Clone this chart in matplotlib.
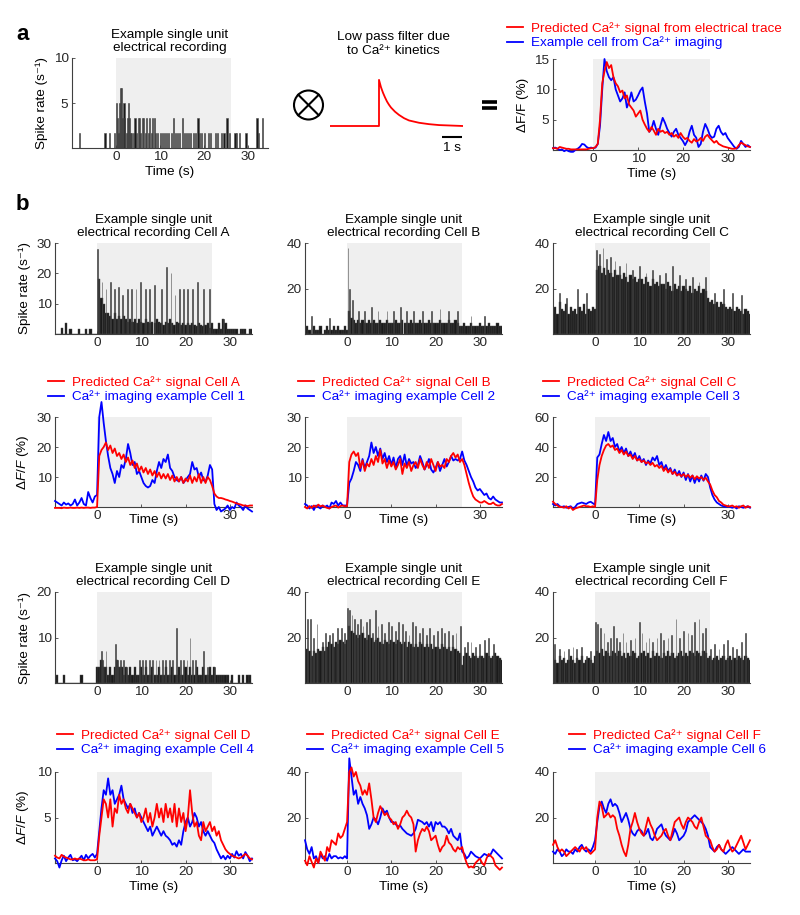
#!/usr/bin/env python3
"""
Spike-rate histograms, Ca2+ kernel and predicted vs. imaged Ca2+ traces.
"""

import matplotlib

matplotlib.use("Agg")
import matplotlib.pyplot as plt
import numpy as np
from matplotlib.patches import Circle

FIG_W, FIG_H = 800, 915
FS = 9.7
RED = "#ff0000"
BLUE = "#0000ff"
SHADE = "#efefef"
BAR = "#1a1a1a"
BAR_EDGE = "#4a4a4a"
AX_COLOR = "#404040"
STIM_ON, STIM_OFF = 0, 26

# ---------------------------------------------------------------- data
# all traces / histograms are sampled on a 0.5 s grid from -9.5 to 35 s
t_grid = np.arange(-9.5, 35.01, 0.5)

# panel a: sparse single unit (spike times, rate)
a_spike_t = [-8.2, -2.5, -1.5, -0.3, 0.2, 0.4, 0.6, 0.8, 1.0, 1.3, 1.5, 1.8, 2.0, 2.3,
             2.6, 2.8, 3.0, 3.3, 3.6, 4.0, 4.3, 4.6, 5.0, 5.3, 5.6, 6.0, 6.3, 6.6, 7.0,
             7.3, 7.6, 8.0, 8.3, 8.7, 9.0, 9.5, 10.0, 10.5, 11.0, 11.5, 12.0, 12.5,
             13.0, 13.5, 14.0, 14.5, 15.0, 15.5, 16.0, 16.5, 17.0, 17.5, 18.0, 18.6,
             19.0, 19.5, 20.0, 21.0, 21.5, 22.5, 23.0, 24.0, 24.5, 25.2, 25.7, 27.0,
             27.3, 28.0, 29.5, 32.0, 32.3, 33.3]
a_spike_v = [1.67, 1.67, 1.67, 1.67, 5.0, 3.33, 1.67, 5.0, 6.67, 6.67, 3.33, 5.0, 3.33,
             1.67, 3.33, 5.0, 3.33, 1.67, 1.67, 1.67, 3.33, 1.67, 3.33, 3.33, 1.67, 3.33,
             3.33, 1.67, 3.33, 1.67, 3.33, 1.67, 3.33, 3.33, 1.67, 1.67, 1.67, 1.67, 1.67,
             1.67, 1.67, 1.67, 3.33, 1.67, 1.67, 1.67, 3.33, 1.67, 1.67, 1.67, 1.67, 1.67,
             1.67, 3.33, 1.67, 1.67, 1.67, 1.67, 1.67, 1.67, 1.67, 1.67, 1.67, 3.33, 1.67,
             1.67, 1.67, 1.67, 1.67, 3.33, 1.67, 3.33]

# Ca2+ kernel (time after spike in s, normalised amplitude)
kernel_t = [0.0, 0.1, 0.2, 0.3, 0.4, 0.5, 0.6, 0.8, 1.0, 1.25, 1.5, 2.0, 2.5, 3.0, 4.2]
kernel_v = [1.0, 0.84, 0.72, 0.62, 0.53, 0.46, 0.40, 0.31, 0.24, 0.17, 0.12, 0.07, 0.04,
            0.02, 0.0]

a_pred = [0.3, 0.3, 0.3, 0.2, 0.5, 0.4, 0.3, 0.2, 0.2, 0.1,
          0.1, 0.1, 0.1, 0.1, 0.1, 0.1, 0.1, 0.2, 0.3, 0.3,
          0.5, 1.0, 5.0, 11.0, 13.0, 14.5, 13.5, 14.0, 12.0, 11.0,
          10.5, 9.5, 9.8, 8.5, 9.0, 7.5, 7.0, 6.5, 5.5, 6.0,
          6.5, 5.0, 4.2, 3.5, 3.0, 3.8, 3.2, 2.5, 3.5, 3.0,
          3.2, 2.8, 3.0, 2.5, 2.8, 2.2, 2.5, 2.0, 2.8, 2.2,
          1.8, 2.0, 1.5, 1.2, 1.8, 1.4, 1.6, 2.0, 1.5, 2.2,
          2.5, 2.0, 1.6, 1.2, 1.5, 1.0, 0.8, 0.6, 0.5, 0.4,
          0.3, 0.2, 0.2, 0.3, 0.8, 1.2, 1.0, 0.8, 0.6, 0.5]
a_img = [0.3, 0.3, 0.4, 0.2, 0.0, 0.1, -0.2, 0.0, -0.2, -0.3,
         -0.3, 0.0, 0.2, 0.5, 1.0, 0.9, 0.5, 0.3, 0.4, 0.3,
         0.4, 1.0, 4.0, 10.0, 15.0, 13.0, 12.0, 11.5, 12.0, 10.0,
         9.0, 8.0, 8.5, 9.5, 7.0, 8.0, 9.5, 8.0, 8.3, 9.0,
         9.8, 10.3, 8.0, 6.0, 3.0, 3.5, 4.8, 3.5, 2.5, 4.0,
         5.3, 4.5, 3.5, 2.8, 2.2, 3.0, 3.5, 2.5, 2.0, 1.5,
         0.8, 1.5, 3.0, 4.0, 2.5, 2.0, 0.5, 1.0, 3.0, 4.3,
         3.5, 2.5, 2.0, 2.2, 3.5, 4.0, 3.0, 2.5, 2.8, 2.0,
         1.5, 1.0, 0.5, 0.2, 0.5, 1.5, 1.0, 0.5, 0.8, 0.5]

# panel b: spike histograms (0.5 s bins) plus narrow high-rate bins
spike_A = [0, 0, 0, 2.0, 0, 3.5, 0, 1.7, 0, 0,
           0, 1.7, 0, 0, 1.7, 0, 1.7, 0, 0, 0,
           18, 12, 10, 7, 7, 6, 5, 7, 5, 6,
           5, 6, 5, 4, 5, 4, 5, 3.5, 5, 4,
           3.5, 5, 4, 3.5, 4, 3.5, 5, 4, 3.5, 3,
           4, 3.5, 5, 3.5, 3, 4, 3.5, 3, 3.5, 3,
           3.5, 3, 3.5, 3, 2.5, 3.5, 3, 2.5, 3, 3.5,
           2, 3.5, 1.7, 1.7, 3.5, 1.7, 5, 3.5, 1.7, 1.7,
           1.7, 1.7, 1.7, 0, 1.7, 1.7, 1.7, 0, 1.7, 1.7]
peaks_A_t = [0.1, 0.3, 1.1, 2.0, 3.0, 4.0, 4.8, 5.8, 6.9, 7.8, 8.8, 9.9, 11.0, 11.8,
             13.0, 14.5, 15.6, 16.7, 17.6, 18.6, 19.5, 20.4, 21.5, 22.7, 24.0, 25.4, 28.5]
peaks_A_v = [28, 18, 17, 15, 17, 15, 15.5, 13, 15, 15, 15, 17, 15, 15,
             16, 15, 22, 20, 13, 15, 15, 15, 15, 17, 15, 15, 5]

spike_B = [1.7, 3.3, 1.7, 0, 3.3, 1.7, 1.7, 3.3, 0, 1.7,
           3.3, 1.7, 1.7, 3.3, 1.7, 3.3, 1.7, 1.7, 3.3, 1.7,
           10, 7, 6, 5, 6, 5, 6, 5, 5, 6,
           5, 6, 5, 5, 6, 5, 5, 6, 5, 5,
           5, 6, 5, 5, 6, 5, 5, 5, 6, 5,
           5, 5, 6, 5, 5, 5, 6, 5, 5, 5,
           5, 6, 5, 5, 5, 6, 5, 5, 6, 5,
           3.3, 3.3, 5, 3.3, 3.3, 5, 3.3, 3.3, 3.3, 5,
           3.3, 3.3, 3.3, 5, 3.3, 3.3, 3.3, 5, 3.3, 3.3]
peaks_B_t = [-8.0, -4.0, 0.2, 0.6, 1.2, 2.5, 4.0, 5.5, 7.0, 9.0, 10.5, 12.0, 13.5,
             15.0, 17.0, 19.0, 21.0, 23.0, 25.0, 28.0, 31.0]
peaks_B_v = [8, 7, 38, 20, 15, 10, 10, 12, 10, 10, 10, 12, 10, 10, 10, 10, 11, 10, 10, 8, 8]

spike_C = [10, 12, 9, 14, 11, 10, 13, 9, 12, 10,
           11, 9, 12, 10, 13, 9, 11, 10, 12, 11,
           28, 30, 27, 29, 26, 28, 27, 25, 28, 26,
           26, 24, 27, 25, 23, 26, 24, 25, 23, 24,
           24, 22, 25, 23, 21, 24, 22, 23, 21, 22,
           22, 20, 23, 21, 19, 22, 20, 21, 19, 21,
           20, 19, 21, 18, 20, 19, 21, 18, 20, 19,
           16, 14, 15, 13, 14, 12, 14, 13, 12, 11,
           12, 11, 10, 12, 11, 10, 9, 11, 10, 9]
peaks_C_t = [-8, -6.5, -4, -2, 0.3, 1, 1.8, 2.5, 3.5, 4.5, 5.5, 7, 8.5, 10, 11.5, 13,
             14.5, 16, 17.5, 19, 20.5, 22, 23.5, 25, 27, 29, 31, 33]
peaks_C_v = [18, 16, 20, 18, 37, 35, 38, 33, 34, 32, 30, 31, 28, 30, 27, 28,
             26, 27, 30, 26, 24, 25, 23, 25, 18, 20, 18, 17]

spike_D = [0, 1.7, 0, 0, 1.7, 0, 0, 0, 0, 0,
           0, 0, 1.7, 0, 0, 0, 0, 0, 0, 3.5,
           3.5, 5, 3.5, 3.5, 1.7, 3.5, 1.7, 3.5, 5, 3.5,
           3.5, 1.7, 3.5, 1.7, 3.5, 1.7, 3.5, 1.7, 1.7, 3.5,
           1.7, 3.5, 1.7, 1.7, 3.5, 1.7, 1.7, 3.5, 1.7, 1.7,
           3.5, 1.7, 1.7, 3.5, 1.7, 1.7, 3.5, 1.7, 1.7, 3.5,
           1.7, 3.5, 1.7, 1.7, 3.5, 1.7, 1.7, 3.5, 1.7, 1.7,
           3.5, 1.7, 3.5, 1.7, 1.7, 1.7, 1.7, 1.7, 1.7, 0,
           1.7, 0, 0, 1.7, 0, 1.7, 0, 1.7, 1.7, 0]
peaks_D_t = [1.0, 1.3, 2.0, 4.2, 4.7, 5.3, 6.0, 6.7, 9.5, 10.3, 11.0, 11.8, 12.5, 13.3,
             14.0, 14.8, 15.5, 16.3, 17.0, 18.0, 18.8, 19.6, 20.3, 21.0, 21.5, 22.3,
             24.0, 25.0, 26.5]
peaks_D_v = [7, 5, 7, 8.5, 5, 5, 5, 3.5, 5, 5, 5, 5, 5, 5,
             5, 5, 5, 5, 5, 12, 5, 5, 5, 10, 5, 5, 7, 3.5, 3.5]

spike_E = [14, 15, 14, 12, 14, 13, 15, 14, 16, 14,
           16, 18, 17, 16, 18, 17, 19, 18, 17, 19,
           25, 23, 22, 21, 20, 21, 22, 20, 19, 21,
           20, 18, 19, 20, 18, 17, 19, 18, 17, 19,
           18, 17, 19, 18, 17, 18, 16, 18, 17, 16,
           17, 16, 18, 17, 16, 17, 16, 17, 15, 16,
           16, 15, 17, 16, 15, 16, 14, 16, 15, 14,
           13, 8, 12, 13, 12, 11, 13, 12, 11, 12,
           12, 11, 13, 12, 11, 12, 13, 12, 11, 10]
peaks_E_t = [-9, -8.2, -7.5, -6.8, -5.5, -4.8, -4, -3.2, -2.2, -1.2,
             -0.5, 0.1, 0.6, 1.1, 1.7, 2.3, 3, 3.6, 4.4, 5,
             5.8, 6.4, 7, 7.8, 8.5, 9.3, 10.1, 11, 11.7, 12.5,
             13.2, 14, 14.8, 15.5, 16.3, 17, 18, 18.7, 19.5, 20.4,
             21.3, 22, 23, 23.8, 24.6, 25.6, 26.5, 27.2, 28, 29,
             30, 31, 32, 33]
peaks_E_v = [28, 28, 20, 26, 18, 22, 21, 22, 24, 24,
             22, 33, 32, 30, 28, 26, 28, 25, 27, 28,
             22, 32, 25, 26, 22, 27, 25, 23, 27, 26,
             23, 21, 27, 25, 22, 24, 21, 24, 21, 23,
             24, 22, 23, 21, 22, 25, 16, 18, 18, 16,
             17, 19, 20, 17]

spike_F = [11, 10, 9, 12, 10, 11, 9, 10, 12, 10,
           9, 11, 10, 12, 9, 10, 11, 10, 9, 12,
           14, 13, 15, 12, 14, 13, 12, 14, 13, 12,
           14, 12, 13, 11, 13, 12, 14, 13, 11, 12,
           13, 14, 12, 13, 11, 14, 12, 13, 12, 11,
           13, 12, 14, 12, 13, 11, 12, 13, 14, 12,
           13, 12, 14, 13, 12, 14, 13, 12, 14, 13,
           11, 12, 10, 11, 12, 10, 11, 12, 10, 11,
           12, 10, 11, 10, 12, 11, 10, 12, 11, 10]
peaks_F_t = [-9.2, -8, -7, -6, -5, -4.2, -3, -2, -1, 0.1,
             0.6, 1.2, 2, 2.8, 3.5, 4.2, 4.8, 5.5, 6.3, 7,
             8, 9, 10, 10.6, 11.5, 12.2, 13, 14, 14.8, 15.5,
             16.5, 17.2, 18.3, 19, 20, 21, 21.8, 22.5, 23.5, 24.2,
             25, 26, 27, 28, 29, 30, 31, 32, 33, 34]
peaks_F_v = [17, 15, 14, 15, 16, 15, 16, 12, 14, 27,
             26, 24, 22, 18, 20, 25, 20, 18, 22, 18,
             19, 20, 27, 22, 18, 20, 18, 20, 22, 19,
             20, 21, 28, 20, 23, 22, 21, 27, 28, 22,
             24, 15, 17, 15, 17, 19, 16, 15, 18, 22]

# panel b: predicted (red) and imaged (blue) dF/F traces, %
pred_A = [-0.3, -0.3, -0.3, -0.4, -0.2, -0.3, -0.3, -0.2, -0.3, -0.3,
          -0.2, -0.3, -0.2, -0.3, -0.2, -0.2, -0.3, -0.2, -0.2, 0.0,
          17.0, 19.0, 20.0, 21.5, 19.0, 20.5, 18.0, 19.5, 17.0, 18.0,
          16.0, 17.5, 15.0, 16.5, 14.0, 15.5, 13.0, 14.5, 12.0, 13.5,
          11.5, 13.0, 11.0, 12.5, 10.5, 12.0, 10.0, 11.5, 9.5, 11.0,
          9.5, 11.0, 9.0, 10.5, 8.5, 10.0, 8.5, 10.0, 8.0, 9.5,
          8.5, 10.5, 8.0, 10.0, 8.5, 11.0, 8.0, 10.0, 8.0, 10.0,
          9.0, 7.0, 4.5, 3.5, 3.0, 3.0, 2.8, 2.5, 2.3, 2.0,
          1.8, 1.5, 1.2, 1.0, 0.8, 0.5, 0.5, 0.3, 0.5, 0.5]
img_1 = [2.0, 1.5, 1.0, 0.5, 1.5, 0.8, 1.2, 0.5, 1.0, 2.5,
         0.5, 1.5, 3.0, 1.0, 0.5, 5.0, 3.0, 1.5, 3.5, 4.0,
         30.0, 35.0, 28.0, 22.0, 17.0, 13.0, 11.0, 8.0, 12.0, 10.0,
         14.0, 13.0, 16.0, 21.0, 18.0, 14.0, 15.0, 11.0, 12.0, 10.0,
         8.0, 7.0, 6.5, 7.0, 9.0, 8.0, 12.0, 15.0, 13.0, 16.0,
         15.0, 17.5, 13.0, 12.0, 10.0, 9.0, 8.5, 10.0, 8.0, 9.0,
         10.0, 11.0, 15.0, 12.5, 13.0, 10.0, 11.5, 9.0, 8.5, 10.5,
         14.0, 12.5, 1.0, -1.0, 0.0, -1.5, -1.0, -0.5, 0.5, -1.0,
         0.0, -0.5, 1.5, 0.5, 0.0, -1.0, 0.5, -0.5, -1.0, -1.5]

pred_B = [0.0, -0.5, 0.3, -0.3, 0.5, 0.0, 0.8, 0.2, 0.5, 0.0,
          -0.3, -0.5, 0.0, 0.3, 0.5, -0.2, 0.3, 0.5, 0.2, 0.3,
          15.0, 17.5, 18.5, 17.0, 18.0, 13.0, 15.5, 12.0, 14.5, 13.5,
          16.0, 14.0, 17.0, 15.0, 19.0, 14.5, 16.0, 13.0, 15.5, 13.5,
          15.0, 12.5, 14.0, 16.0, 11.0, 14.5, 13.0, 15.0, 12.0, 14.0,
          15.0, 13.0, 16.0, 14.0, 12.5, 15.0, 13.0, 16.0, 14.0, 12.0,
          15.0, 13.5, 14.0, 13.0, 16.0, 15.0, 17.0, 18.0, 16.5, 17.5,
          15.0, 16.0, 14.0, 11.0, 8.0, 5.5, 3.5, 2.5, 2.0, 1.5,
          1.5, 2.0, 1.5, 1.0, 1.0, 1.5, 0.8, 0.5, 0.5, 1.0]
img_2 = [1.0, 0.5, -0.5, 0.3, -1.0, 0.5, 0.0, -0.5, 0.5, 0.0,
         0.5, -0.5, 1.5, 1.0, 2.0, 0.5, 1.5, 0.5, 0.5, 0.5,
         8.0, 9.5, 12.0, 15.0, 14.0, 12.0, 16.0, 13.0, 15.0, 17.0,
         21.5, 18.0, 20.0, 17.0, 19.5, 16.0, 18.0, 15.0, 17.0, 14.0,
         16.5, 13.0, 16.0, 17.0, 14.0, 17.5, 13.5, 16.0, 14.5, 15.0,
         13.0, 14.0, 17.0, 15.0, 12.5, 14.0, 16.0, 12.5, 11.5, 13.0,
         15.0, 12.0, 14.0, 16.0, 13.5, 15.0, 17.0, 15.5, 16.0, 15.5,
         16.0, 18.5, 15.5, 14.0, 12.0, 10.0, 8.5, 6.5, 5.5, 6.0,
         5.0, 4.0, 4.5, 3.0, 2.5, 3.5, 2.5, 2.0, 1.5, 1.5]

pred_C = [3.5, 2.0, 1.0, 0.0, 0.0, -0.5, 0.5, -1.0, 0.0, -2.0,
          -1.0, -0.5, 0.0, 0.5, 1.0, 0.5, 0.5, 0.0, 0.5, 0.0,
          18.0, 28.0, 34.0, 38.0, 41.0, 42.0, 40.0, 41.0, 38.0, 39.0,
          36.0, 38.0, 35.0, 37.0, 34.0, 35.0, 32.0, 34.0, 31.0, 32.0,
          30.0, 31.0, 29.0, 30.0, 28.0, 29.5, 27.0, 28.0, 26.0, 27.5,
          24.0, 26.0, 23.0, 25.0, 22.0, 23.5, 21.0, 22.0, 20.5, 22.0,
          20.0, 21.5, 19.5, 21.0, 18.5, 20.5, 19.0, 20.0, 18.0, 19.5,
          17.0, 15.0, 11.0, 8.0, 6.5, 4.0, 3.0, 1.5, 1.0, 0.5,
          0.5, 1.0, 0.0, 0.5, -0.5, 0.5, 1.0, -0.5, 0.5, 0.0]
img_3 = [2.0, 1.0, 2.0, 0.5, 0.0, 0.5, -0.5, 0.0, 0.5, -1.0,
         0.0, 2.0, 2.5, 3.0, 2.5, 2.0, 3.0, 3.5, 2.5, 1.5,
         33.0, 35.0, 42.0, 48.0, 44.0, 50.0, 44.0, 46.0, 40.0, 42.0,
         37.0, 40.0, 36.0, 39.0, 34.0, 37.0, 33.0, 36.0, 31.0, 34.0,
         30.0, 32.0, 28.0, 31.0, 29.0, 33.0, 31.0, 34.0, 28.0, 30.0,
         25.0, 28.0, 24.0, 26.0, 22.0, 25.0, 21.0, 24.0, 20.0, 23.0,
         18.0, 22.0, 17.0, 21.0, 16.0, 20.0, 17.0, 21.0, 17.5, 22.0,
         20.0, 13.0, 8.0, 5.0, 3.0, 2.0, 1.0, 0.5, 0.0, 0.5,
         0.0, -0.5, 0.0, -1.0, 0.5, 0.0, -0.5, 0.0, 0.5, -0.5]

pred_D = [0.8, 0.6, 0.5, 0.9, 0.7, 0.6, 0.5, 0.4, 0.4, 0.5,
          0.4, 0.5, 0.4, 0.3, 0.3, 0.4, 0.3, 0.3, 0.3, 0.4,
          3.0, 5.0, 7.0, 6.5, 5.0, 7.0, 4.0, 6.0, 5.5, 7.5,
          6.5, 7.0, 6.0, 5.5, 6.5, 6.0, 5.5, 5.0, 5.5, 4.5,
          5.0, 6.0, 4.5, 5.5, 4.0, 5.0, 6.5, 5.0, 6.0, 4.5,
          6.5, 5.0, 6.0, 4.5, 6.5, 4.0, 6.0, 4.5, 5.5, 3.5,
          5.0, 8.0, 5.5, 4.0, 4.5, 3.0, 2.5, 4.5, 3.5, 4.0,
          4.5, 3.5, 4.0, 3.0, 3.5, 2.5, 2.0, 1.5, 1.2, 1.0,
          0.8, 0.7, 0.6, 0.5, 0.6, 0.8, 1.0, 0.8, 0.5, 0.4]
img_4 = [0.5, 0.2, -0.5, 0.3, 0.8, 0.2, 0.6, 0.9, 0.3, 0.4,
         0.2, 0.5, 0.8, 0.3, 0.9, 0.5, 0.8, 1.0, 0.6, 1.0,
         3.5, 6.0, 8.0, 7.5, 9.3, 7.5, 8.0, 6.5, 7.0, 7.5,
         8.5, 7.0, 6.5, 6.0, 6.5, 5.5, 6.0, 5.0, 5.5, 5.0,
         4.5, 4.0, 3.5, 4.0, 3.0, 3.5, 4.0, 3.5, 3.0, 3.5,
         3.0, 2.8, 2.5, 2.0, 2.2, 1.8, 2.5, 2.0, 3.5, 4.5,
         5.0, 4.0, 4.5, 5.5, 5.0, 4.0, 4.5, 3.5, 3.0, 3.5,
         3.0, 2.5, 2.2, 1.5, 1.0, 0.5, 0.8, 0.4, 0.8, 0.5,
         1.0, 0.6, 1.3, 0.8, 1.0, 0.5, 1.2, 0.8, 0.2, 0.5]

pred_E = [1.0, -1.0, 3.0, 0.5, -2.0, 2.0, 0.0, 5.0, 3.0, 1.0,
          7.0, 5.0, 10.0, 9.0, 8.0, 13.0, 11.0, 12.0, 15.0, 18.0,
          40.0, 42.0, 38.0, 40.0, 36.0, 34.0, 30.0, 32.0, 30.0, 35.0,
          28.0, 20.0, 18.0, 22.0, 25.0, 23.0, 21.0, 22.0, 20.0, 19.0,
          17.0, 18.0, 15.0, 17.0, 20.0, 21.0, 23.0, 21.0, 20.0, 17.0,
          5.0, 10.0, 13.0, 15.0, 14.0, 16.0, 14.0, 10.0, 11.0, 12.0,
          8.0, 5.0, 7.0, 8.0, 12.0, 9.0, 8.0, 6.0, 5.0, 7.0,
          6.0, 7.0, 3.0, 0.0, -2.0, -1.5, -2.0, 0.0, 1.0, 2.0,
          0.0, -1.0, 2.0, 4.0, 3.0, 2.0, -1.0, -2.0, -3.0, -2.0]
img_5 = [10.0, 6.0, 4.0, 7.0, 2.0, 3.0, 0.0, 4.0, 2.0, 3.0,
         1.0, 4.0, 2.0, 3.0, 3.0, 2.0, 2.5, 2.0, 3.0, 2.0,
         46.0, 38.0, 30.0, 32.0, 26.0, 29.0, 26.0, 24.0, 21.0, 15.0,
         17.0, 20.0, 19.0, 17.0, 20.0, 24.0, 22.0, 23.0, 20.0, 18.0,
         18.0, 17.0, 16.0, 16.5, 15.0, 14.0, 13.0, 12.5, 12.0, 13.0,
         15.0, 19.0, 18.5, 18.0, 17.0, 18.0, 16.0, 18.0, 14.0, 18.0,
         17.0, 18.0, 16.0, 16.0, 15.0, 13.0, 15.0, 12.0, 11.0, 10.0,
         13.0, 5.0, 4.0, 2.0, 3.0, 5.0, 4.0, 3.0, 2.5, 2.0,
         3.0, 4.0, 3.5, 3.0, 4.0, 6.0, 5.0, 4.0, 3.0, 2.0]

pred_F = [8, 10, 7, 5, 6, 5, 3, 4, 5, 6,
          7, 6, 5, 7, 6, 7, 5, 4, 5, 6,
          20, 27, 25, 20, 21, 22, 20, 21, 20, 15,
          12, 8, 5, 3, 8, 15, 18, 22, 18, 15,
          13, 12, 16, 20, 17, 15, 12, 10, 11, 12,
          14, 15, 12, 10, 14, 18, 19, 20, 17, 15,
          18, 20, 19, 18, 16, 15, 18, 20, 16, 12,
          11, 10, 7, 5, 6, 8, 6, 5, 8, 10,
          7, 5, 6, 8, 10, 12, 9, 6, 8, 10]
img_6 = [5, 4, 6, 5, 3, 4, 6, 5, 5, 4,
         6, 5, 7, 8, 6, 5, 6, 5, 7, 10,
         18, 25, 27, 24, 22, 26, 28, 25, 26, 25,
         22, 18, 20, 22, 19, 15, 13, 12, 14, 15,
         14, 12, 13, 15, 11, 10, 12, 15, 16, 17,
         14, 12, 11, 10, 12, 15, 13, 10, 11, 12,
         14, 18, 19, 20, 21, 20, 19, 18, 17, 15,
         12, 7, 6, 5, 7, 8, 6, 5, 4, 5,
         6, 7, 6, 5, 4, 5, 6, 5, 5, 5]

cell_letters = ["A", "B", "C", "D", "E", "F"]
img_numbers = ["1", "2", "3", "4", "5", "6"]
spike_data = [(spike_A, peaks_A_t, peaks_A_v), (spike_B, peaks_B_t, peaks_B_v),
              (spike_C, peaks_C_t, peaks_C_v), (spike_D, peaks_D_t, peaks_D_v),
              (spike_E, peaks_E_t, peaks_E_v), (spike_F, peaks_F_t, peaks_F_v)]
trace_data = [(pred_A, img_1), (pred_B, img_2), (pred_C, img_3),
              (pred_D, img_4), (pred_E, img_5), (pred_F, img_6)]
spike_ylims = [30, 40, 40, 20, 40, 40]
spike_yticks = [[10, 20, 30], [20, 40], [20, 40], [10, 20], [20, 40], [20, 40]]
trace_ylims = [30, 30, 60, 10, 40, 40]
trace_yticks = [[10, 20, 30], [10, 20, 30], [20, 40, 60], [5, 10], [20, 40], [20, 40]]

# ---------------------------------------------------------------- layout (pixels)
COLS = [(55, 252), (305, 502), (553, 750)]
SPIKE_ROWS = [(243, 334), (592, 683)]
TRACE_ROWS = [(417, 507), (772, 863)]
LEGEND_POS = [(48, 382), (298, 382), (543, 382), (57, 735), (307, 735), (569, 735)]
XLIM_B = (-9.5, 35)

plt.rcParams["font.family"] = ["Liberation Sans", "DejaVu Sans"]
plt.rcParams["font.size"] = FS
plt.rcParams["mathtext.fontset"] = "custom"
plt.rcParams["mathtext.rm"] = "Liberation Sans"
plt.rcParams["mathtext.it"] = "Liberation Sans:italic"
plt.rcParams["mathtext.bf"] = "Liberation Sans:bold"

CA = "Ca²⁺"


def px_rect(left, right, top, bottom):
    return [left / FIG_W, 1 - bottom / FIG_H, (right - left) / FIG_W, (bottom - top) / FIG_H]


def style_axes(ax, xlim, ymax, yticks):
    ax.axvspan(STIM_ON, STIM_OFF, color=SHADE, lw=0, zorder=0)
    ax.set_xlim(*xlim)
    ax.set_ylim(0, ymax)
    ax.set_xticks([0, 10, 20, 30])
    ax.set_yticks(yticks)
    for s in ["top", "right"]:
        ax.spines[s].set_visible(False)
    for s in ["left", "bottom"]:
        ax.spines[s].set_color(AX_COLOR)
        ax.spines[s].set_linewidth(0.8)
    ax.tick_params(direction="in", length=2, width=0.6, color=AX_COLOR,
                   labelcolor="#262626", labelsize=FS, pad=2.5)
    ax.patch.set_alpha(0)


def draw_spikes(ax, base, peak_t, peak_v):
    ax.bar(t_grid, base, width=0.5, color=BAR, edgecolor=BAR_EDGE, linewidth=0.3, zorder=2)
    ax.bar(peak_t, peak_v, width=0.18, color=BAR, edgecolor=BAR_EDGE, linewidth=0.4, zorder=3)


def draw_traces(fig, ax, pred, img, xlim, labels, leg_xy):
    m = (t_grid >= xlim[0]) & (t_grid <= xlim[1])
    lb, = ax.plot(t_grid[m], np.asarray(img, float)[m], color=BLUE, lw=1.3,
                  clip_on=False, zorder=3)
    lr, = ax.plot(t_grid[m], np.asarray(pred, float)[m], color=RED, lw=1.3,
                  clip_on=False, zorder=4)
    ax.legend([lr, lb], labels, loc="upper left",
              bbox_to_anchor=(leg_xy[0] / FIG_W, 1 - (leg_xy[1] - 6) / FIG_H),
              bbox_transform=fig.transFigure, frameon=False, fontsize=FS,
              handlelength=1.2, handletextpad=0.6, labelspacing=0.12,
              borderpad=0, borderaxespad=0, labelcolor="linecolor")


def main():
    fig = plt.figure(figsize=(FIG_W / 100, FIG_H / 100), dpi=100)

    # overlay in pixel coordinates for the operator symbols
    ov = fig.add_axes([0, 0, 1, 1], zorder=-1)
    ov.set_xlim(0, FIG_W)
    ov.set_ylim(FIG_H, 0)
    ov.axis("off")

    fig.text(16 / FIG_W, 1 - 34 / FIG_H, "a", fontsize=16, fontweight="bold", va="center")
    fig.text(16 / FIG_W, 1 - 204 / FIG_H, "b", fontsize=16, fontweight="bold", va="center")

    # ---- panel a: spikes
    ax = fig.add_axes(px_rect(72, 268, 58, 148))
    style_axes(ax, (-10, 34.5), 10, [5, 10])
    ax.bar(a_spike_t, a_spike_v, width=0.25, color=BAR, edgecolor=BAR_EDGE,
           linewidth=0.4, zorder=2)
    ax.set_title("Example single unit\nelectrical recording", fontsize=FS, pad=5,
                 linespacing=1.15)
    ax.set_ylabel("Spike rate (s⁻¹)")
    ax.set_xlabel("Time (s)", labelpad=2)

    # ---- panel a: kernel
    axk = fig.add_axes(px_rect(330, 463, 78, 150))
    onset = 2.45
    kx = [0.0, onset] + [onset + k for k in kernel_t] + [6.65]
    ky = [0.0, 0.0] + kernel_v + [0.0]
    axk.plot(kx, ky, color=RED, lw=1.3)
    axk.plot([5.6, 6.6], [-0.24, -0.24], color="black", lw=1.5, solid_capstyle="butt")
    axk.text(6.1, -0.47, "1 s", ha="center", va="center", fontsize=FS)
    axk.set_xlim(0, 6.65)
    axk.set_ylim(-0.52, 1.04)
    axk.axis("off")
    fig.text(393 / FIG_W, 1 - 44 / FIG_H, "Low pass filter due\nto " + CA + " kinetics",
             ha="center", va="center", fontsize=FS, linespacing=1.15)

    ov.add_patch(Circle((308.5, 105), 14.5, fill=False, lw=1.5, ec="black"))
    d = 14.5 * 0.7071
    ov.plot([308.5 - d, 308.5 + d], [105 - d, 105 + d], color="black", lw=1.5)
    ov.plot([308.5 - d, 308.5 + d], [105 + d, 105 - d], color="black", lw=1.5)
    ov.plot([482, 497], [102, 102], color="black", lw=2.6, solid_capstyle="butt")
    ov.plot([482, 497], [108, 108], color="black", lw=2.6, solid_capstyle="butt")

    # ---- panel a: predicted vs imaged
    ax = fig.add_axes(px_rect(553, 750, 59, 150))
    style_axes(ax, (-9, 35), 15, [5, 10, 15])
    draw_traces(fig, ax, a_pred, a_img, (-9, 35),
                ["Predicted " + CA + " signal from electrical trace",
                 "Example cell from " + CA + " imaging"], (507, 28))
    ax.set_ylabel("ΔF/F (%)")
    ax.set_xlabel("Time (s)", labelpad=2)

    # ---- panel b
    for i, letter in enumerate(cell_letters):
        row, col = divmod(i, 3)
        left, right = COLS[col]

        top, bottom = SPIKE_ROWS[row]
        ax = fig.add_axes(px_rect(left, right, top, bottom))
        style_axes(ax, XLIM_B, spike_ylims[i], spike_yticks[i])
        draw_spikes(ax, *spike_data[i])
        ax.set_title("Example single unit\nelectrical recording Cell " + letter,
                     fontsize=FS, pad=5, linespacing=1.1)
        if col == 0:
            ax.set_ylabel("Spike rate (s⁻¹)")

        top, bottom = TRACE_ROWS[row]
        ax = fig.add_axes(px_rect(left, right, top, bottom))
        style_axes(ax, XLIM_B, trace_ylims[i], trace_yticks[i])
        pred, img = trace_data[i]
        draw_traces(fig, ax, pred, img, XLIM_B,
                    ["Predicted " + CA + " signal Cell " + letter,
                     CA + " imaging example Cell " + img_numbers[i]], LEGEND_POS[i])
        if row == 0:
            # the axis title sits between the 0 and 30 labels here
            ax.set_xticklabels(["0", "", "", "30"])
            ax.set_xlabel("Time (s)", labelpad=-6)
        else:
            ax.set_xlabel("Time (s)", labelpad=2)
        if col == 0:
            ax.set_ylabel(r"$\Delta F/F$ (%)")

    fig.savefig("out.png", dpi=100)
    plt.close(fig)


if __name__ == "__main__":
    main()
